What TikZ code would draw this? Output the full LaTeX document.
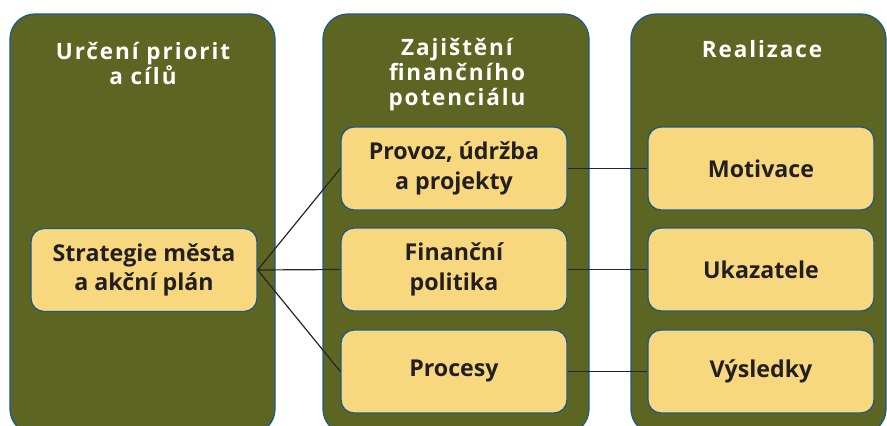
\documentclass[tikz,border=0pt]{standalone}
\usepackage{fontspec}
\setmainfont{Open Sans}
\newfontfamily\titlefont{Open Sans}[LetterSpace=8.5]
\definecolor{olive}{RGB}{92,102,34}
\definecolor{colborder}{RGB}{27,90,138}
\definecolor{boxfill}{RGB}{248,216,127}
\definecolor{boxborder}{RGB}{30,88,130}
\definecolor{txt}{RGB}{35,31,32}
\begin{document}
\begin{tikzpicture}[x=1pt,y=-1pt,
  column/.style={draw=colborder,line width=1.3pt,fill=olive,rounded corners=25pt,minimum width=#1,minimum height=420pt,inner sep=0pt},
  coltitle/.style={text=white,align=center,font=\titlefont\bfseries\fontsize{22.5}{25}\selectfont,inner sep=0pt},
  itembox/.style={draw=boxborder,line width=1.3pt,fill=boxfill,rounded corners=13pt,minimum width=226pt,minimum height=83pt,inner sep=0pt,align=center,text=txt,font=\bfseries\fontsize{23.2}{29.5}\selectfont},
  link/.style={draw=black!85,line width=1.2pt}]
\useasboundingbox (0,0) rectangle (887,426);
\clip (0,0) rectangle (887,426);
\node[column=265pt] (c1) at (142.5,224) {};
\node[column=266pt] (c2) at (456,224) {};
\node[column=255pt] (c3) at (758.5,224) {};
\node[coltitle] (t1) at (143,63) {Určení priorit\\a cílů};
\node[coltitle] (t2) at (457,75) {Zajištění\\finančního\\potenciálu};
\node[coltitle] (t3) at (762,49) {Realizace};
\node[itembox] (s) at (144,270) {Strategie města\\a akční plán};
\node[itembox] (p1) at (454,168.5) {Provoz, údržba\\a projekty};
\node[itembox] (p2) at (454,269.5) {Finanční\\politika};
\node[itembox] (p3) at (454,371.5) {Procesy};
\node[itembox] (r1) at (761,168.5) {Motivace};
\node[itembox] (r2) at (761,269.5) {Ukazatele};
\node[itembox] (r3) at (761,371.5) {Výsledky};
\draw[link] (s.east) -- (p1.west);
\draw[link] (s.east) -- (p2.west);
\draw[link] (s.east) -- (p3.west);
\draw[link] (p1.east) -- (r1.west);
\draw[link] (p2.east) -- (r2.west);
\draw[link] (p3.east) -- (r3.west);
\end{tikzpicture}
\end{document}
